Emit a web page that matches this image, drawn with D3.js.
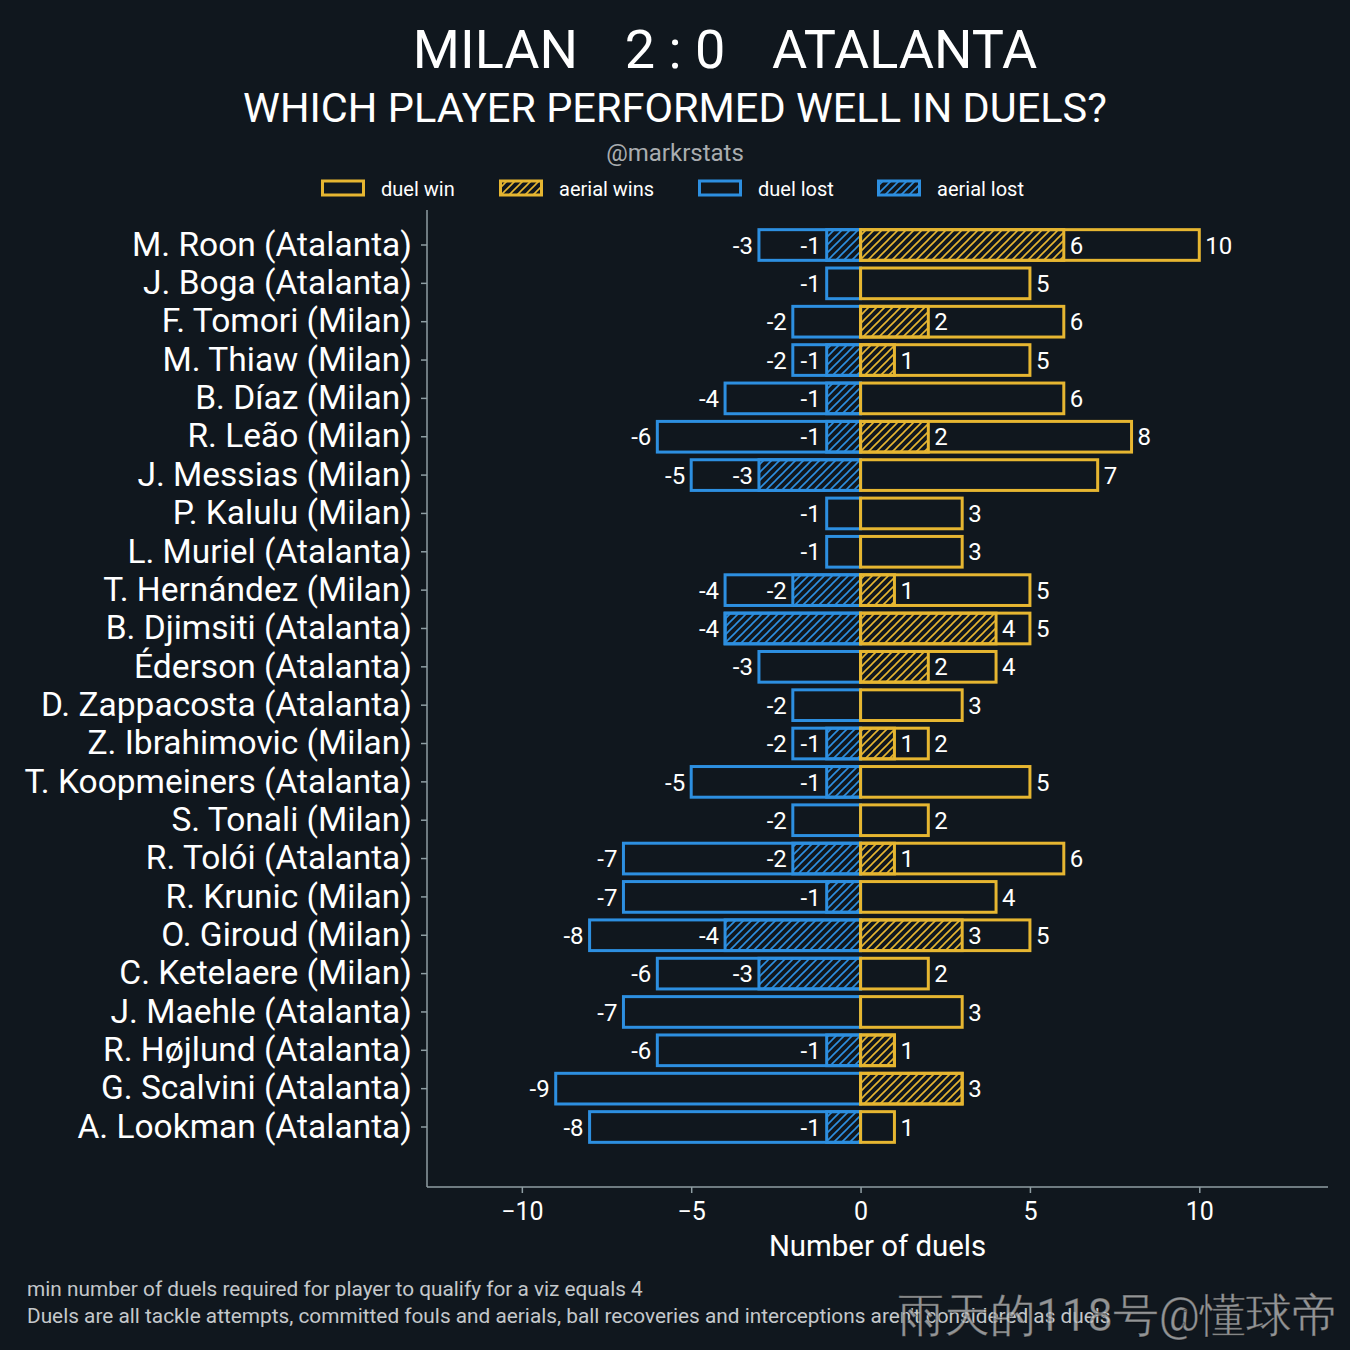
<!DOCTYPE html>
<html>
<head>
<meta charset="utf-8">
<script src="https://cdn.jsdelivr.net/npm/d3@7"></script>
<style>
  body { margin: 0; background: #10171e; }
  text { font-family: Roboto, 'Noto Sans', sans-serif; }
</style>
</head>
<body>
<div id="chart"></div>
<script>
const players = [
  'M. Roon (Atalanta)', 'J. Boga (Atalanta)', 'F. Tomori (Milan)', 'M. Thiaw (Milan)',
  'B. Díaz (Milan)', 'R. Leão (Milan)', 'J. Messias (Milan)', 'P. Kalulu (Milan)',
  'L. Muriel (Atalanta)', 'T. Hernández (Milan)', 'B. Djimsiti (Atalanta)', 'Éderson (Atalanta)',
  'D. Zappacosta (Atalanta)', 'Z. Ibrahimovic (Milan)', 'T. Koopmeiners (Atalanta)', 'S. Tonali (Milan)',
  'R. Tolói (Atalanta)', 'R. Krunic (Milan)', 'O. Giroud (Milan)', 'C. Ketelaere (Milan)',
  'J. Maehle (Atalanta)', 'R. Højlund (Atalanta)', 'G. Scalvini (Atalanta)', 'A. Lookman (Atalanta)'
]
const duelWin = [10, 5, 6, 5, 6, 8, 7, 3, 3, 5, 5, 4, 3, 2, 5, 2, 6, 4, 5, 2, 3, 1, 3, 1]
const aerialWin = [6, 0, 2, 1, 0, 2, 0, 0, 0, 1, 4, 2, 0, 1, 0, 0, 1, 0, 3, 0, 0, 1, 3, 0]
const duelLost = [-3, -1, -2, -2, -4, -6, -5, -1, -1, -4, -4, -3, -2, -2, -5, -2, -7, -7, -8, -6, -7, -6, -9, -8]
const aerialLost = [-1, 0, 0, -1, -1, -1, -3, 0, 0, -2, -4, 0, 0, -1, -1, 0, -2, -1, -4, -3, 0, -1, 0, -1]
const xTicks = [-10, -5, 0, 5, 10]

const gold = '#e6b631'
const blue = '#2d8fe0'
const bg = '#10171e'
const spine = '#8f9ea3'

const W = 1350, H = 1350
const plot = {left: 427, right: 1328, top: 210, bottom: 1187}

const svg = d3.select('#chart').append('svg')
  .attr('width', W).attr('height', H)

svg.append('rect').attr('width', W).attr('height', H).attr('fill', bg)

// hatch patterns
const defs = svg.append('defs')
;[['hatchGold', gold], ['hatchBlue', blue]].forEach(([id, c]) => {
  const p = defs.append('pattern')
    .attr('id', id)
    .attr('patternUnits', 'userSpaceOnUse')
    .attr('width', 8).attr('height', 8)
  p.append('path')
    .attr('d', 'M-2,2 l4,-4 M0,8 l8,-8 M6,10 l4,-4')
    .attr('stroke', c).attr('stroke-width', 1.6)
})

const x = d3.scaleLinear().domain([-12.8, 13.8]).range([plot.left, plot.right])
const rowStep = (1127 - 245) / 23
const y = d3.scaleBand()
  .domain(players)
  .range([245 - rowStep / 2, 1127 + rowStep / 2])
  .paddingInner(0.2)
  .paddingOuter(0.1)

const rows = players.map((p, i) => ({
  player: p, win: duelWin[i], aWin: aerialWin[i], lost: duelLost[i], aLost: aerialLost[i]
}))

// bars
const barGroup = svg.append('g')
const drawBars = (key, fill, color) => {
  barGroup.selectAll('rect.' + key)
    .data(rows.filter(d => d[key] !== 0))
    .enter()
    .append('rect')
    .attr('class', key)
    .attr('x', d => x(Math.min(0, d[key])))
    .attr('y', d => y(d.player))
    .attr('width', d => Math.abs(x(d[key]) - x(0)))
    .attr('height', y.bandwidth())
    .attr('fill', fill)
    .attr('stroke', color)
    .attr('stroke-width', 3)
}
drawBars('lost', 'none', blue)
drawBars('aLost', 'url(#hatchBlue)', blue)
drawBars('win', 'none', gold)
drawBars('aWin', 'url(#hatchGold)', gold)

// value labels
const labels = []
rows.forEach(d => {
  labels.push({player: d.player, v: d.win, side: 1})
  if (d.aWin !== 0 && d.aWin !== d.win) labels.push({player: d.player, v: d.aWin, side: 1})
  labels.push({player: d.player, v: d.lost, side: -1})
  if (d.aLost !== 0 && d.aLost !== d.lost) labels.push({player: d.player, v: d.aLost, side: -1})
})
svg.append('g').selectAll('text')
  .data(labels)
  .enter()
  .append('text')
  .attr('x', d => x(d.v) + d.side * 6)
  .attr('y', d => y(d.player) + y.bandwidth() / 2)
  .attr('dy', '0.36em')
  .attr('text-anchor', d => d.side > 0 ? 'start' : 'end')
  .attr('fill', 'white')
  .attr('font-size', 24)
  .text(d => d.v)

// axes
const xAxis = svg.append('g')
  .attr('transform', `translate(0,${plot.bottom})`)
  .call(d3.axisBottom(x).tickValues(xTicks).tickSize(6).tickPadding(9).tickFormat(d => d < 0 ? '−' + Math.abs(d) : d))
const yAxis = svg.append('g')
  .attr('transform', `translate(${plot.left},0)`)
  .call(d3.axisLeft(y).tickSize(6).tickPadding(9))

;[xAxis, yAxis].forEach(a => {
  a.select('.domain').attr('stroke', spine).attr('stroke-width', 1.5)
  a.selectAll('.tick line').attr('stroke', spine).attr('stroke-width', 1.5)
  a.selectAll('.tick text').attr('fill', 'white').attr('font-family', 'Roboto')
})
xAxis.select('.domain').attr('d', `M${plot.left},0H${plot.right}`)
yAxis.select('.domain').attr('d', `M0,${plot.top}V${plot.bottom}`)
xAxis.selectAll('.tick text').attr('font-size', 25)
yAxis.selectAll('.tick text').attr('font-size', 33.5)

svg.append('text')
  .attr('x', (plot.left + plot.right) / 2).attr('y', 1256)
  .attr('text-anchor', 'middle').attr('fill', 'white').attr('font-size', 29.4)
  .text('Number of duels')

// titles
const title = svg.append('g').attr('fill', 'white').attr('font-size', 54)
title.append('text').attr('x', 578).attr('y', 68).attr('text-anchor', 'end').text('MILAN')
title.append('text').attr('x', 675).attr('y', 68).attr('text-anchor', 'middle').text('2 : 0')
title.append('text').attr('x', 772).attr('y', 68).attr('text-anchor', 'start').text('ATALANTA')

svg.append('text')
  .attr('x', 675).attr('y', 122).attr('text-anchor', 'middle')
  .attr('fill', 'white').attr('font-size', 41.5)
  .text('WHICH PLAYER PERFORMED WELL IN DUELS?')

svg.append('text')
  .attr('x', 675).attr('y', 161).attr('text-anchor', 'middle')
  .attr('fill', '#a9adb0').attr('font-size', 24)
  .text('@markrstats')

// legend
const legendItems = [
  {label: 'duel win', color: gold, fill: 'none', px: 321},
  {label: 'aerial wins', color: gold, fill: 'url(#hatchGold)', px: 499},
  {label: 'duel lost', color: blue, fill: 'none', px: 698},
  {label: 'aerial lost', color: blue, fill: 'url(#hatchBlue)', px: 877}
]
const lg = svg.append('g').selectAll('g').data(legendItems).enter().append('g')
lg.append('rect')
  .attr('x', d => d.px + 1.5).attr('y', 181)
  .attr('width', 41).attr('height', 14)
  .attr('fill', d => d.fill).attr('stroke', d => d.color).attr('stroke-width', 3)
lg.append('text')
  .attr('x', d => d.px + 60).attr('y', 196)
  .attr('fill', 'white').attr('font-size', 20)
  .text(d => d.label)

// footnotes
const foot = svg.append('g').attr('fill', '#c4c8cb').attr('font-size', 20.8)
foot.append('text').attr('x', 27).attr('y', 1296)
  .text('min number of duels required for player to qualify for a viz equals 4')
foot.append('text').attr('x', 27).attr('y', 1323)
  .text("Duels are all tackle attempts, committed fouls and aerials, ball recoveries and interceptions aren't considered as duels")

// watermark
svg.append('text')
  .attr('x', 1338).attr('y', 1331).attr('text-anchor', 'end')
  .attr('font-family', "'Noto Sans CJK SC', sans-serif")
  .attr('font-size', 45.8)
  .attr('fill', 'rgba(190,190,190,0.75)')
  .attr('stroke', 'rgba(0,0,0,0.4)').attr('stroke-width', 1)
  .text('雨天的118号@懂球帝')
</script>
</body>
</html>
